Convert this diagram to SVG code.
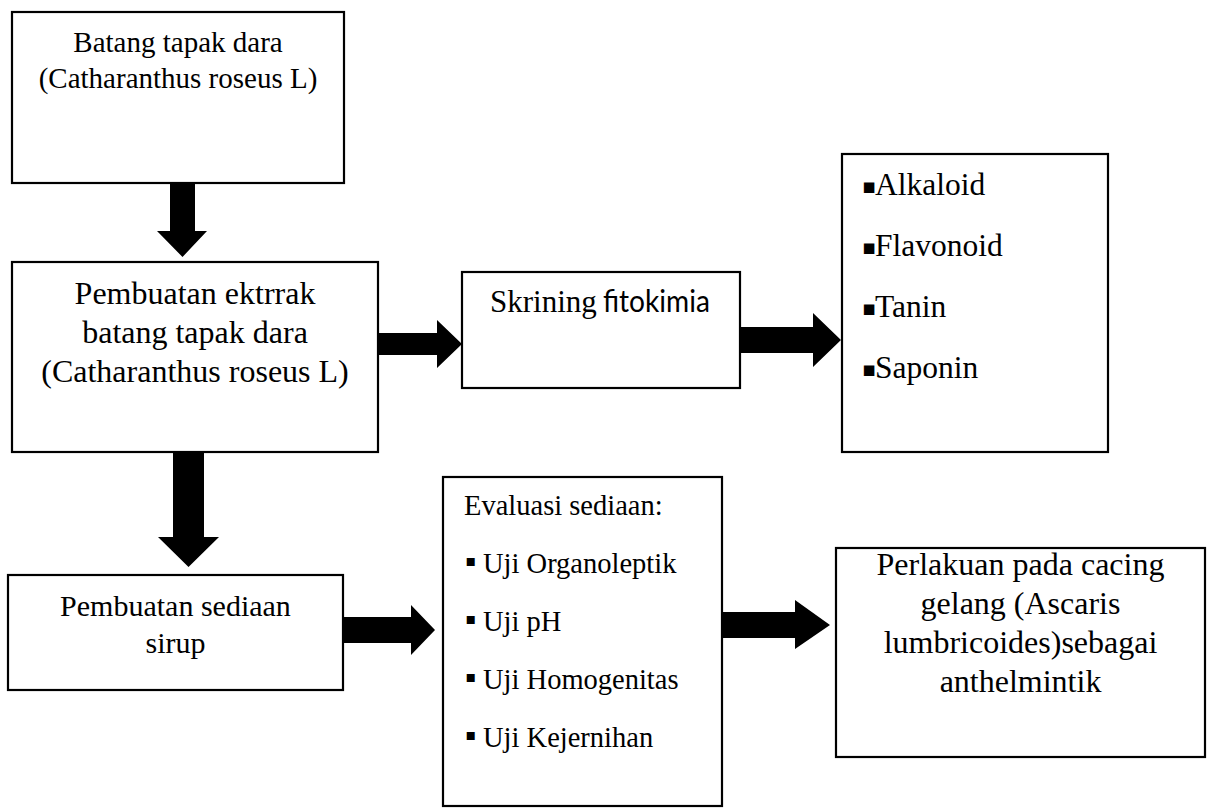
<svg xmlns="http://www.w3.org/2000/svg" width="1208" height="811" viewBox="0 0 1208 811">
<style>
.box{fill:#fff;stroke:#000;stroke-width:2.2}
.t{font-family:"Liberation Serif","Times New Roman",serif;fill:#000}
.c{text-anchor:middle}
.s{font-family:Lato,"Open Sans","Liberation Sans",sans-serif;fill:#000}
.arr{fill:#000}
.b1{font-family:"DejaVu Sans",sans-serif;font-size:21px}
.b2{font-family:"DejaVu Sans",sans-serif;font-size:16px}
</style>
<rect width="1208" height="811" fill="#fff"/>
<g id="connectors">
<polygon class="arr" points="170,183 195,183 195,231 207,231 182.5,257 157,231 170,231"/>
<polygon class="arr" points="173,452 204,452 204,537 219,537 188.5,567 158,537 173,537"/>
<polygon class="arr" points="378,333 437,333 437,320 462,344 437,368 437,355 378,355"/>
<polygon class="arr" points="740,327 813,327 813,313 841,340 813,367 813,353 740,353"/>
<polygon class="arr" points="343,617 411,617 411,605 435,630 411,655 411,643 343,643"/>
<polygon class="arr" points="723,612 795,612 795,600 830,625 795,649 795,638 723,638"/>
</g>
<g id="n1">
<rect class="box" x="12" y="12" width="332" height="171"/>
<text class="t c" font-size="29"><tspan x="178" y="52">Batang tapak dara</tspan><tspan x="178" y="88">(Catharanthus roseus L)</tspan></text>
</g>
<g id="n2">
<rect class="box" x="12" y="262" width="366" height="190"/>
<text class="t c" font-size="32"><tspan x="195" y="304">Pembuatan ektrrak</tspan><tspan x="195" y="343">batang tapak dara</tspan><tspan x="195" y="382">(Catharanthus roseus L)</tspan></text>
</g>
<g id="n3">
<rect class="box" x="462" y="272" width="278" height="116"/>
<text font-size="30"><tspan class="t" x="490" y="312" font-size="31">Skrining </tspan><tspan class="s" x="603" y="312" textLength="107" lengthAdjust="spacingAndGlyphs">fitokimia</tspan></text>
</g>
<g id="n4">
<rect class="box" x="842" y="154" width="266" height="298"/>
<text class="t" font-size="31.5"><tspan class="b1" x="862" y="192.5">▪</tspan><tspan x="875" y="195">Alkaloid</tspan><tspan class="b1" x="862" y="253.5">▪</tspan><tspan x="875" y="256">Flavonoid</tspan><tspan class="b1" x="862" y="314.5">▪</tspan><tspan x="875" y="317">Tanin</tspan><tspan class="b1" x="862" y="375.5">▪</tspan><tspan x="875" y="378">Saponin</tspan></text>
</g>
<g id="n5">
<rect class="box" x="8" y="575" width="335" height="115"/>
<text class="t c" font-size="30"><tspan x="175.5" y="616">Pembuatan sediaan</tspan><tspan x="175.5" y="653">sirup</tspan></text>
</g>
<g id="n6">
<rect class="box" x="443" y="477" width="279" height="329"/>
<text class="t" font-size="28.5"><tspan x="464" y="515">Evaluasi sediaan:</tspan><tspan class="b2" x="465.5" y="566">▪</tspan><tspan x="483" y="573">Uji Organoleptik</tspan><tspan class="b2" x="465.5" y="624">▪</tspan><tspan x="483" y="631">Uji pH</tspan><tspan class="b2" x="465.5" y="682">▪</tspan><tspan x="483" y="689">Uji Homogenitas</tspan><tspan class="b2" x="465.5" y="740">▪</tspan><tspan x="483" y="747">Uji Kejernihan</tspan></text>
</g>
<g id="n7">
<rect class="box" x="836" y="548" width="369" height="209"/>
<text class="t c" font-size="32"><tspan x="1020.5" y="575">Perlakuan pada cacing</tspan><tspan x="1020.5" y="614">gelang (Ascaris</tspan><tspan x="1020.5" y="653">lumbricoides)sebagai</tspan><tspan x="1020.5" y="692">anthelmintik</tspan></text>
</g>
</svg>
